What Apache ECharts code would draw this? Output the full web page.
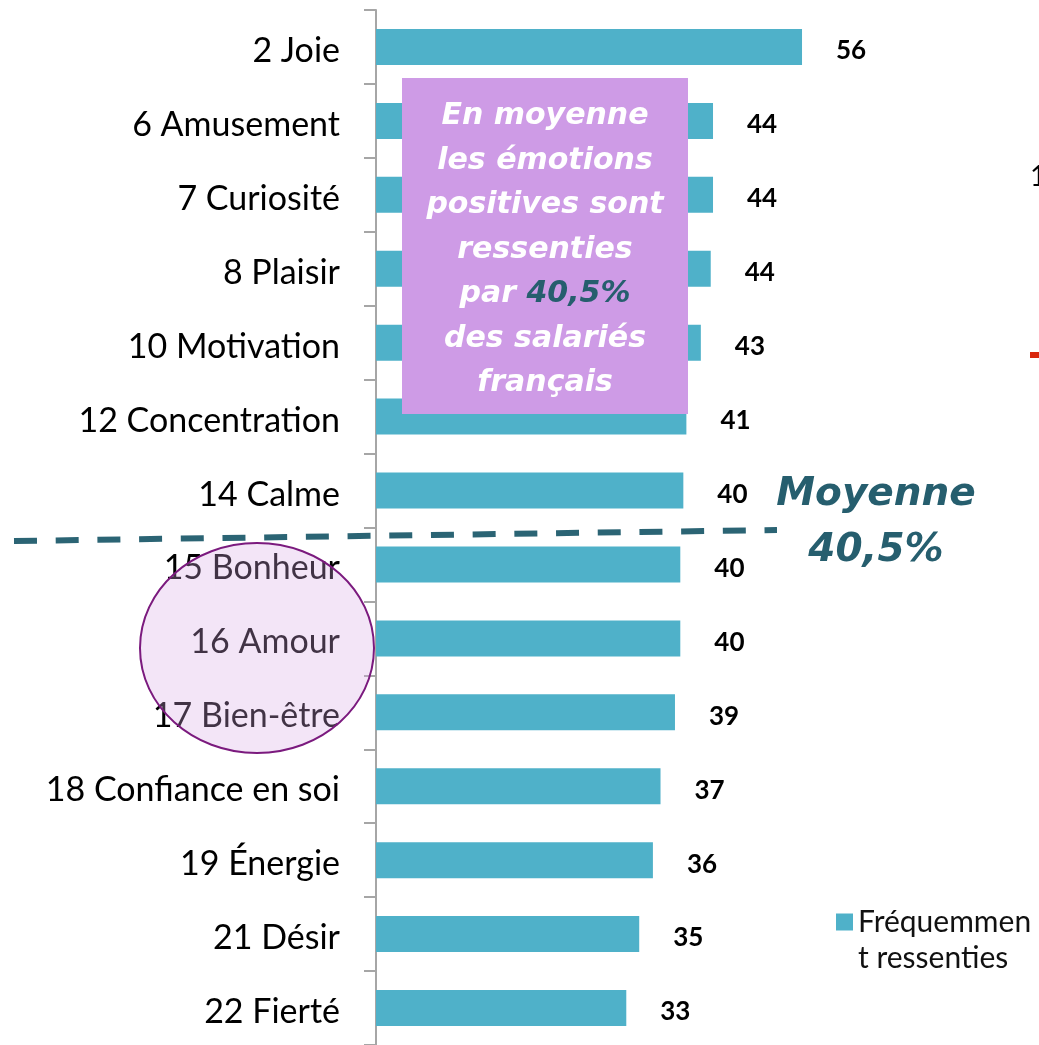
<!DOCTYPE html>
<html>
<head>
<meta charset="utf-8">
<script src="https://cdn.jsdelivr.net/npm/echarts@6/dist/echarts.min.js"></script>
<style>
  html, body { margin: 0; padding: 0; background: #fff; }
  #main { width: 1039px; height: 1045px; }
</style>
</head>
<body>
<div id="main"></div>
<script>
// emotions, top to bottom
const categories = [
  "2 Joie", "6 Amusement", "7 Curiosité", "8 Plaisir", "10 Motivation",
  "12 Concentration", "14 Calme", "15 Bonheur", "16 Amour", "17 Bien-être",
  "18 Confiance en soi", "19 Énergie", "21 Désir", "22 Fierté"
];
// % frequently felt (labels show rounded value)
const values = [56.0, 44.3, 44.3, 44.0, 42.7, 40.8, 40.4, 40.0, 40.0, 39.3, 37.4, 36.4, 34.6, 32.9];
const seriesName = "Fréquemment ressenties";
const averageText = "40,5%";

const teal = "#265e6e";

let chartDom = document.getElementById("main");
let myChart = echarts.init(chartDom);

let option = {
  animation: false,
  grid: {
    left: 376,
    top: 10,
    width: 608.6,
    height: 1038,
  },
  legend: {
    data: [seriesName],
    left: 836,
    top: 868,
    padding: 0,
    itemWidth: 17,
    itemHeight: 17,
    icon: "rect",
    // blank first line so the icon lines up with "Fréquemmen"
    formatter: function () {
      return " \nFréquemmen\nt ressenties";
    },
    textStyle: {
      fontFamily: "Lato",
      fontSize: 30,
      color: "#111",
      lineHeight: 36,
    },
  },
  xAxis: {
    type: "value",
    min: 0,
    max: 80,
    show: false,
  },
  yAxis: {
    type: "category",
    inverse: true,
    data: categories,
    axisLine: { lineStyle: { color: "#a6a6a6", width: 2 } },
    axisTick: { show: true, length: 12, lineStyle: { color: "#a6a6a6", width: 2 } },
    axisLabel: {
      margin: 36,
      fontFamily: "Lato",
      fontSize: 34,
      color: "#000",
      verticalAlign: "top",
      lineHeight: 8,
    },
  },
  series: [
    {
      name: seriesName,
      type: "bar",
      data: values,
      barWidth: 36,
      itemStyle: { color: "#4fb1c9" },
      label: {
        show: true,
        position: "right",
        distance: 34,
        offset: [0, 4],
        fontFamily: "Lato",
        fontWeight: "bold",
        fontSize: 26,
        color: "#000",
        formatter: function (p) {
          return Math.round(p.value);
        },
      },
    },
  ],
  graphic: [
    {
      type: "rect",
      z: 100,
      shape: { x: 402, y: 78, width: 286, height: 336 },
      style: { fill: "#ce9be6" },
    },
    {
      type: "text",
      z: 101,
      x: 545,
      y: 250,
      style: {
        text: "En moyenne\nles émotions\npositives sont\nressenties\npar {b|" + averageText + "}\ndes salariés\nfrançais",
        fill: "#fff",
        font: "italic bold 30px 'DejaVu Sans'",
        align: "center",
        verticalAlign: "middle",
        lineHeight: 44.5,
        rich: {
          b: {
            fill: teal,
            font: "italic bold 30px 'DejaVu Sans'",
            lineHeight: 44.5,
          },
        },
      },
    },
    {
      type: "line",
      z: 100,
      shape: { x1: 14, y1: 541, x2: 777, y2: 530 },
      style: { stroke: "#2b6474", lineWidth: 6, lineDash: [23, 18.7] },
    },
    {
      type: "text",
      z: 101,
      x: 876,
      y: 495,
      style: {
        text: "Moyenne",
        fill: teal,
        font: "italic bold 39px 'DejaVu Sans'",
        align: "center",
        verticalAlign: "middle",
      },
    },
    {
      type: "text",
      z: 101,
      x: 876,
      y: 551,
      style: {
        text: averageText,
        fill: teal,
        font: "italic bold 39px 'DejaVu Sans'",
        align: "center",
        verticalAlign: "middle",
      },
    },
    {
      type: "ellipse",
      z: 100,
      shape: { cx: 257, cy: 648, rx: 117, ry: 105 },
      style: { fill: "rgba(215,168,228,0.3)", stroke: "#7b1a7e", lineWidth: 2 },
    },
    {
      type: "text",
      z: 101,
      x: 1030,
      y: 177,
      style: {
        text: "1",
        fill: "#000",
        font: "28px Lato",
        verticalAlign: "middle",
      },
    },
    {
      type: "rect",
      z: 101,
      shape: { x: 1030, y: 352, width: 10, height: 6 },
      style: { fill: "#d9260c" },
    },
  ],
};
option && myChart.setOption(option);
</script>
</body>
</html>
